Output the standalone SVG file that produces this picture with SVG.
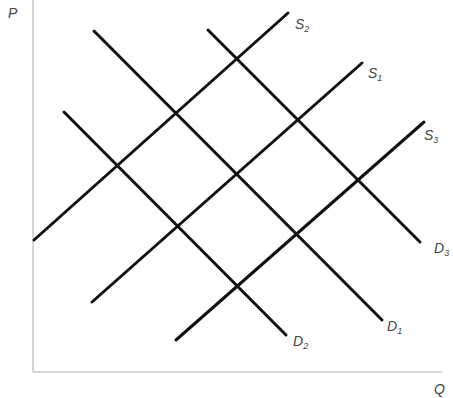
<svg xmlns="http://www.w3.org/2000/svg" width="453" height="398" viewBox="0 0 453 398">
<style>
.axis{stroke:#c8c8c8;stroke-width:1.5;fill:none}
.curve{stroke:#111;stroke-width:3;stroke-linecap:round;fill:none}
.lbl{font-family:"Liberation Sans",Arial,sans-serif;font-style:italic;font-size:14px;fill:#444}
.sub{font-size:9px}
</style>
<rect width="453" height="398" fill="#fff"/>
<g id="axes">
<line class="axis" x1="33" y1="0" x2="33" y2="372"/>
<line class="axis" x1="33" y1="372" x2="442" y2="372"/>
<text class="lbl" x="8" y="18">P</text>
<text class="lbl" x="434" y="394">Q</text>
</g>
<g id="connectors">
<line id="S2" class="curve" x1="34" y1="240" x2="288" y2="13"/>
<line id="S1" class="curve" x1="92" y1="302" x2="362" y2="63"/>
<line id="S3" class="curve" x1="176" y1="340" x2="424" y2="122"/>
<line id="D2" class="curve" x1="64" y1="112" x2="286" y2="335"/>
<line id="D1" class="curve" x1="94" y1="31" x2="382" y2="320"/>
<line id="D3" class="curve" x1="208" y1="30" x2="420" y2="242"/>
</g>
<g id="labels">
<text class="lbl" x="295" y="29">S<tspan class="sub" dy="3">2</tspan></text>
<text class="lbl" x="368" y="78">S<tspan class="sub" dy="3">1</tspan></text>
<text class="lbl" x="424" y="140">S<tspan class="sub" dy="3">3</tspan></text>
<text class="lbl" x="434" y="253">D<tspan class="sub" dy="3">3</tspan></text>
<text class="lbl" x="387" y="331">D<tspan class="sub" dy="3">1</tspan></text>
<text class="lbl" x="293" y="346">D<tspan class="sub" dy="3">2</tspan></text>
</g>
</svg>
